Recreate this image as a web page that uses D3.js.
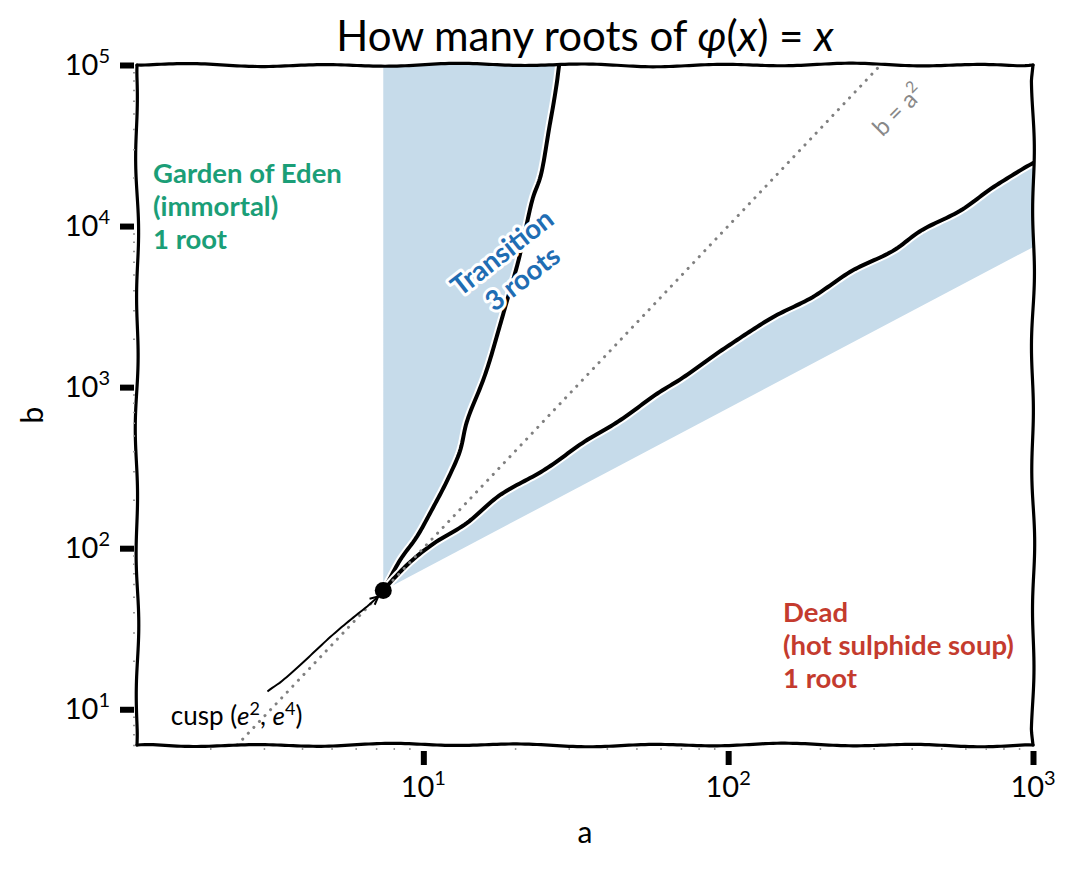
<!DOCTYPE html>
<html>
<head>
<meta charset="utf-8">
<script src="https://cdn.jsdelivr.net/npm/d3@7"></script>
<style>
body { margin: 0; background: #fff; }
svg { font-family: Lato, "Noto Sans", sans-serif; }
</style>
</head>
<body>
<div class="canvas"></div>
<script>
// tick values
const xMajor = [10, 100, 1000]
const yMajor = [10, 100, 1000, 10000, 100000]

// cusp at (e^2, e^4)
const cuspA = 7.389
const cuspB = 54.6

// upper boundary of the 3-root wedge
const upperA = [7.389, 8.41, 9.56, 10.8, 12.3, 13.2, 13.9, 15.7, 17.5, 18.9, 20.3, 22.8, 24.4, 26.1, 27.9]
const upperB = [54.6, 84.2, 117, 180, 297, 406, 606, 1120, 2170, 3470, 5560, 14500, 20700, 45500, 100000]

// lower boundary of the 3-root wedge
const lowerA = [7.389, 9.07, 10.8, 13.9, 17.9, 24.7, 33.5, 43.3, 58.5, 71.2, 99.2, 140, 190, 257, 348, 426, 576, 740, 1000]
const lowerB = [54.6, 81.9, 107, 143, 213, 305, 455, 606, 918, 1150, 1770, 2720, 3620, 5330, 7100, 9300, 12400, 17500, 24600]

// bottom edge of the shaded band under the lower curve
const bandA = [7.389, 1000]
const bandB = [54.6, 7400]

// b = a^2 guide line
const guideA = [2.45, 316.2]
const guideB = [6, 100000]

const W = 1076, H = 869
const L = 137, R = 1033, T = 65, B = 745

const x = d3.scaleLog().domain([1.15, 1000]).range([L, R])
const y = d3.scaleLog().domain([6, 1e5]).range([B, T])

const svg = d3.select(".canvas").append("svg")
    .attr("width", W)
    .attr("height", H)

const shade = "#c6dbea"

// resample a smooth curve through the points (screen space)
function sampled(a, b, step) {
    const d = d3.line().curve(d3.curveCatmullRom.alpha(0.5))(a.map((v, i) => [x(v), y(b[i])]))
    const p = svg.append("path").attr("d", d)
    const node = p.node()
    const len = node.getTotalLength()
    const pts = []
    for (let s = 0; s < len; s += step) {
        const q = node.getPointAtLength(s)
        pts.push([q.x, q.y])
    }
    const q = node.getPointAtLength(len)
    pts.push([q.x, q.y])
    p.remove()
    return pts
}

// hand-drawn look: push points sideways a little
function wobble(pts, amp, seed, step) {
    step = step || 4
    let dense = []
    for (let i = 0; i < pts.length - 1; i++) {
        const [x0, y0] = pts[i], [x1, y1] = pts[i + 1]
        const len = Math.hypot(x1 - x0, y1 - y0)
        const n = Math.max(1, Math.ceil(len / step))
        for (let k = 0; k < n; k++) {
            const t = k / n
            dense.push([x0 + (x1 - x0) * t, y0 + (y1 - y0) * t])
        }
    }
    dense.push(pts[pts.length - 1])
    let s = 0
    const total = d3.sum(dense.slice(1), (p, i) => Math.hypot(p[0] - dense[i][0], p[1] - dense[i][1]))
    return dense.map((p, i) => {
        if (i > 0) s += Math.hypot(p[0] - dense[i - 1][0], p[1] - dense[i - 1][1])
        const j0 = Math.max(0, i - 1), j1 = Math.min(dense.length - 1, i + 1)
        const dx = dense[j1][0] - dense[j0][0], dy = dense[j1][1] - dense[j0][1]
        const dl = Math.hypot(dx, dy) || 1
        const env = Math.min(1, s / 15, (total - s) / 15)
        const off = amp * env * (0.6 * Math.sin(s / 21 + seed) + 0.4 * Math.sin(s / 57 + seed * 2.3))
        return [p[0] - dy / dl * off, p[1] + dx / dl * off]
    })
}

const line = d3.line()

svg.append("clipPath").attr("id", "plot")
    .append("rect").attr("x", L).attr("y", T).attr("width", R - L).attr("height", B - T)

const plot = svg.append("g").attr("clip-path", "url(#plot)")

const upperPts = wobble(sampled(upperA, upperB, 3), 0.7, 1.7)
const lowerPts = wobble(sampled(lowerA, lowerB, 3), 0.6, 4.1)

// shaded regions
const wedge = [[x(cuspA), y(1e5)], [x(cuspA), y(cuspB)]].concat(upperPts)
plot.append("path")
    .attr("d", line(wedge) + "Z")
    .attr("fill", shade)

const band = lowerPts.concat([[x(bandA[1]), y(bandB[1])], [x(bandA[0]), y(bandB[0])]])
plot.append("path")
    .attr("d", line(band) + "Z")
    .attr("fill", shade)

// boundary curves with a white halo
;[upperPts, lowerPts].forEach(pts => {
    plot.append("path")
        .attr("d", line(pts))
        .attr("fill", "none")
        .attr("stroke", "#fff")
        .attr("stroke-width", 8)
        .attr("stroke-linecap", "round")
    plot.append("path")
        .attr("d", line(pts))
        .attr("fill", "none")
        .attr("stroke", "#000")
        .attr("stroke-width", 4)
        .attr("stroke-linecap", "round")
})

// b = a^2
plot.append("path")
    .attr("d", line(guideA.map((v, i) => [x(v), y(guideB[i])])))
    .attr("fill", "none")
    .attr("stroke", "#808080")
    .attr("stroke-width", 3)
    .attr("stroke-linecap", "round")
    .attr("stroke-dasharray", "0.1 8")

// cusp marker
plot.append("circle")
    .attr("cx", x(cuspA))
    .attr("cy", y(cuspB))
    .attr("r", 8.5)
    .attr("fill", "#000")

// annotation arrow
const arrowStart = [x(3.08), y(12.9)]
const arrowEnd = [x(cuspA) - 5, y(cuspB) + 6]
const arrowPts = wobble([arrowStart, arrowEnd], 1.6, 0.4, 3)
svg.append("path")
    .attr("d", line(arrowPts))
    .attr("fill", "none")
    .attr("stroke", "#000")
    .attr("stroke-width", 2)
const ang = Math.atan2(arrowEnd[1] - arrowStart[1], arrowEnd[0] - arrowStart[0])
const head = [
    [arrowEnd[0] - 9 * Math.cos(ang - 0.45), arrowEnd[1] - 9 * Math.sin(ang - 0.45)],
    arrowEnd,
    [arrowEnd[0] - 9 * Math.cos(ang + 0.45), arrowEnd[1] - 9 * Math.sin(ang + 0.45)]
]
svg.append("path")
    .attr("d", line(head))
    .attr("fill", "none")
    .attr("stroke", "#000")
    .attr("stroke-width", 2)

const cuspText = svg.append("text")
    .attr("x", x(2.44))
    .attr("y", y(7.95))
    .attr("text-anchor", "middle")
    .attr("font-size", 26)
    .attr("fill", "#000")
cuspText.append("tspan").text("cusp (")
cuspText.append("tspan").attr("font-style", "italic").text("e")
cuspText.append("tspan").attr("dy", -10).attr("font-size", 18).text("2")
cuspText.append("tspan").attr("dy", 10).text(", ")
cuspText.append("tspan").attr("font-style", "italic").text("e")
cuspText.append("tspan").attr("dy", -10).attr("font-size", 18).text("4")
cuspText.append("tspan").attr("dy", 10).text(")")

// frame
const frame = [
    [[L, T], [R, T], 2.1],
    [[L, B], [R, B], 5.3],
    [[L, T], [L, B], 3.2],
    [[R, T], [R, B], 0.9]
]
frame.forEach(([p0, p1, seed]) => {
    svg.append("path")
        .attr("d", line(wobble([p0, p1], 1.8, seed, 4)))
        .attr("fill", "none")
        .attr("stroke", "#000")
        .attr("stroke-width", 3.2)
        .attr("stroke-linecap", "round")
})

// axes
const xMinor = x.ticks().filter(v => !xMajor.includes(v))
const yMinor = y.ticks().filter(v => !yMajor.includes(v))

const xAxis = svg.append("g")
    .attr("transform", `translate(0,${B + 6})`)
    .call(d3.axisBottom(x).tickValues(xMajor).tickSize(14).tickFormat(""))
xAxis.select(".domain").remove()
xAxis.selectAll(".tick line").attr("stroke", "#000").attr("stroke-width", 6)

const xAxisMinor = svg.append("g")
    .attr("transform", `translate(0,${B + 3})`)
    .call(d3.axisBottom(x).tickValues(xMinor).tickSize(2).tickFormat(""))
xAxisMinor.select(".domain").remove()
xAxisMinor.selectAll(".tick line").attr("stroke", "#999").attr("stroke-width", 1.5)

const yAxis = svg.append("g")
    .attr("transform", `translate(${L - 3},0)`)
    .call(d3.axisLeft(y).tickValues(yMajor).tickSize(14).tickFormat(""))
yAxis.select(".domain").remove()
yAxis.selectAll(".tick line").attr("stroke", "#000").attr("stroke-width", 6)

const yAxisMinor = svg.append("g")
    .attr("transform", `translate(${L - 2},0)`)
    .call(d3.axisLeft(y).tickValues(yMinor).tickSize(2).tickFormat(""))
yAxisMinor.select(".domain").remove()
yAxisMinor.selectAll(".tick line").attr("stroke", "#999").attr("stroke-width", 1.5)

function powerLabel(t, d) {
    t.append("tspan").text("10")
    t.append("tspan").attr("dy", -12).attr("font-size", 20).text(Math.round(Math.log10(d)))
}

svg.append("g").selectAll("text")
    .data(xMajor)
    .enter().append("text")
    .attr("x", d => x(d))
    .attr("y", 797)
    .attr("text-anchor", "middle")
    .attr("font-size", 29)
    .each(function (d) { powerLabel(d3.select(this), d) })

svg.append("g").selectAll("text")
    .data(yMajor)
    .enter().append("text")
    .attr("x", 110)
    .attr("y", d => y(d) + 10)
    .attr("text-anchor", "end")
    .attr("font-size", 29)
    .each(function (d) { powerLabel(d3.select(this), d) })

svg.append("text")
    .attr("x", (L + R) / 2)
    .attr("y", 843)
    .attr("text-anchor", "middle")
    .attr("font-size", 30)
    .text("a")

svg.append("text")
    .attr("transform", `translate(43,${(T + B) / 2 + 10}) rotate(-90)`)
    .attr("text-anchor", "middle")
    .attr("font-size", 30)
    .text("b")

// title
const title = svg.append("text")
    .attr("x", (L + R) / 2)
    .attr("y", 51)
    .attr("text-anchor", "middle")
    .attr("font-size", 42)
title.append("tspan").text("How many roots of ")
title.append("tspan").attr("font-style", "italic").text("φ")
title.append("tspan").text("(")
title.append("tspan").attr("font-style", "italic").text("x")
title.append("tspan").text(") = ")
title.append("tspan").attr("font-style", "italic").text("x")

// b = a^2 label
const guideText = svg.append("text")
    .attr("transform", `translate(904,116) rotate(-45)`)
    .attr("text-anchor", "middle")
    .attr("font-size", 24)
    .attr("fill", "#888")
guideText.append("tspan").text("b = a")
guideText.append("tspan").attr("dy", -10).attr("font-size", 16).text("2")

// region labels
function block(lines, px, py, color, rot) {
    const g = svg.append("g").attr("transform", `translate(${px},${py}) rotate(${rot || 0})`)
    lines.forEach((s, i) => {
        const t = g.append("text")
            .attr("x", 0)
            .attr("y", i * 33)
            .attr("font-size", 27.5)
            .attr("font-weight", "bold")
            .attr("fill", color)
            .text(s)
        if (rot) {
            t.attr("text-anchor", "middle")
                .attr("stroke", "#fff")
                .attr("stroke-width", 6)
                .attr("stroke-linejoin", "round")
                .attr("paint-order", "stroke")
        }
    })
}

block(["Garden of Eden", "(immortal)", "1 root"], 153, 183, "#1b9e77")
block(["Dead", "(hot sulphide soup)", "1 root"], 783, 622, "#c43b2e")
block(["Transition", "3 roots"], 508, 260, "#1f6db3", -38)
</script>
</body>
</html>
